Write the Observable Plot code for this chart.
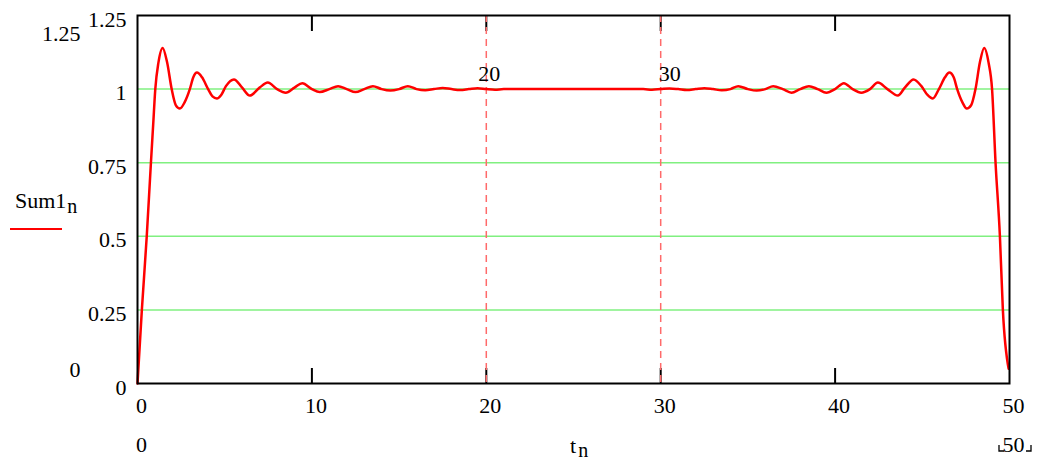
<!DOCTYPE html>
<html><head><meta charset="utf-8">
<script src="https://cdn.jsdelivr.net/npm/d3@7"></script>
<script src="https://cdn.jsdelivr.net/npm/@observablehq/plot@0.6"></script>
<style>
body{margin:0;background:#fff;}
svg text, svg tspan { font-family: "Liberation Serif", "Times New Roman", "DejaVu Serif", serif !important; }
</style>
</head><body><div id="chart"></div>
<script>
// Values
const tValues = [0,0.25,0.53,0.77,0.9,1.02,1.2,1.44,1.7,1.96,2.2,2.43,2.7,3.0,3.2,3.41,3.7,4.05,4.3,4.55,4.8,5.07,5.53,6.0,6.44,7.0,7.47,8.0,8.5,9.0,9.45,10.0,10.45,11.0,11.5,12.0,12.5,13.0,13.5,14.0,14.5,15.0,15.5,16.0,16.5,17.0,17.5,18.0,18.5,19.0,19.5,20.0,20.5,21.0,22,23,24,25,26,27,28,29.0,29.5,30.0,30.5,31,31.5,32,32.5,33,33.5,34,34.45,35,35.5,36,36.45,37,37.5,38,38.5,39,39.5,40,40.5,41,41.5,42,42.45,43,43.6,44.0,44.5,44.95,45.3,45.6,45.95,46.3,46.55,46.8,47.0,47.3,47.55,47.8,48.05,48.3,48.55,48.8,49.0,49.2,49.45,49.62,49.95];
const sumValues = [0,0.25,0.5,0.75,0.88,1.0,1.09,1.14,1.09,1.0,0.945,0.934,0.955,1.0,1.04,1.056,1.04,1.0,0.975,0.968,0.98,1.01,1.033,1.005,0.978,1.005,1.022,1.0,0.988,1.005,1.02,1.0,0.99,1.0,1.01,1.0,0.99,1.0,1.01,1.0,0.995,1.0,1.01,1.0,0.996,1.0,1.004,1.0,0.997,1.0,1.003,1.0,0.998,1.0,1.0,1.0,1.0,1.0,1.0,1.0,1.0,1.0,0.998,1.0,1.002,1.0,0.997,1.0,1.003,1.0,0.996,1.0,1.01,1.0,0.995,1.0,1.01,1.0,0.988,1.0,1.01,1.0,0.988,1.0,1.02,1.0,0.988,1.0,1.022,1.0,0.978,1.005,1.033,1.01,0.98,0.968,1.0,1.04,1.056,1.04,1.0,0.955,0.934,0.945,1.0,1.09,1.14,1.09,1.0,0.75,0.5,0.25,0.05];
const yTicks = [0, 0.25, 0.5, 0.75, 1, 1.25];
const xTicks = [0, 10, 20, 30, 40, 50];
const gridValues = [0.25, 0.5, 0.75, 1];
const innerTicks = [10, 20, 30, 40];
const markerValues = [20, 30];
const xLimits = [0, 50];
const yLimits = [0, 1.25];
const seriesName = "Sum1", seriesSub = "n";
const xName = "t", xSub = "n";

const data = tValues.map((t, i) => ({t, v: sumValues[i]}));
const fmt = d => String(d);

const plot = Plot.plot({
  width: 1037, height: 460,
  marginLeft: 137, marginRight: 28, marginTop: 15, marginBottom: 77,
  x: {domain: xLimits, axis: null},
  y: {domain: yLimits, axis: null},
  style: {fontSize: "22px", background: "white", color: "black", overflow: "visible"},
  marks: [
    Plot.ruleY(gridValues, {stroke: "#80f080", strokeWidth: 1.5}),
    Plot.tickX(innerTicks, {insetTop: 353, stroke: "black", strokeWidth: 2}),
    Plot.tickX(innerTicks, {insetBottom: 352, stroke: "black", strokeWidth: 2}),
    Plot.ruleX(markerValues, {stroke: "#ff6a6a", strokeWidth: 1.5, strokeDasharray: "7,5"}),
    Plot.line(data, {x: "t", y: "v", stroke: "#ff0000", strokeWidth: 2.5, curve: "monotone-x"}),
    Plot.frame({stroke: "black", strokeWidth: 2}),
    Plot.axisY(yTicks, {tickSize: 0, tickPadding: 11, tickFormat: fmt, fontSize: 22, dy: 4, label: null}),
    Plot.axisX(xTicks, {tickSize: 0, tickPadding: 14, tickFormat: fmt, fontSize: 22, dx: 4, label: null}),
    Plot.text([markerValues[0]], {x: d => d, text: fmt, frameAnchor: "top", lineAnchor: "top", dy: 50, dx: 3, fontSize: 22}),
    Plot.text([markerValues[1]], {x: d => d, text: fmt, frameAnchor: "top", lineAnchor: "top", dy: 50, dx: 9, fontSize: 22}),
    Plot.text([yLimits[1]], {y: d => d, text: fmt, frameAnchor: "left", textAnchor: "end", dx: -57, dy: 18, fontSize: 22}),
    Plot.text([yLimits[0]], {y: d => d, text: fmt, frameAnchor: "left", textAnchor: "end", dx: -57, dy: -14, fontSize: 22}),
    Plot.text(xLimits, {x: d => d, text: fmt, frameAnchor: "bottom", lineAnchor: "bottom", dy: 68, dx: 4, fontSize: 22})
  ]
});
document.getElementById("chart").appendChild(plot);

// Axis title and legend with subscripts, plus the range corners
const svg = d3.select(plot);
const t1 = svg.append("text").attr("x", 570).attr("y", 453).attr("text-anchor", "start")
  .attr("font-size", 22).attr("fill", "black");
t1.append("tspan").text(xName);
t1.append("tspan").attr("dx", 2).attr("dy", 4).attr("font-size", 20).text(xSub);

const lg = svg.append("text").attr("x", 15).attr("y", 208).attr("text-anchor", "start")
  .attr("font-size", 22).attr("fill", "black");
lg.append("tspan").text(seriesName);
lg.append("tspan").attr("dx", 1).attr("dy", 5).attr("font-size", 20).text(seriesSub);
svg.append("line").attr("x1", 10).attr("x2", 62).attr("y1", 229).attr("y2", 229)
  .attr("stroke", "#ff0000").attr("stroke-width", 2);

// corner brackets around the right limit label
svg.append("path").attr("d", "M999,445 V451 H1004").attr("fill", "none").attr("stroke", "black").attr("stroke-width", 1.3);
svg.append("path").attr("d", "M1026,451 H1031 V445").attr("fill", "none").attr("stroke", "black").attr("stroke-width", 1.3);
</script>
</body></html>
